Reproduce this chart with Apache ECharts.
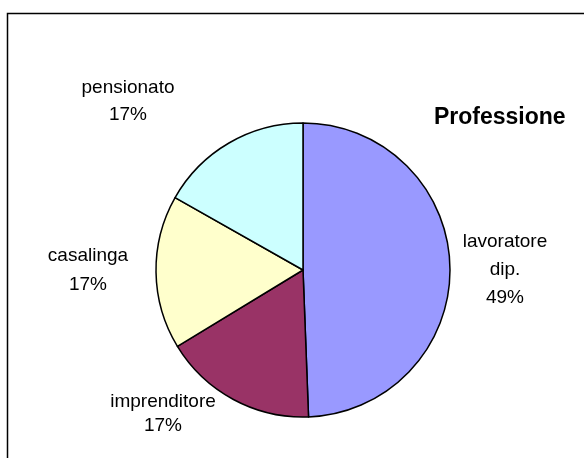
<!DOCTYPE html>
<html>
<head>
<meta charset="utf-8">
<script src="https://cdn.jsdelivr.net/npm/echarts@6/dist/echarts.min.js"></script>
<style>
  html, body { margin: 0; padding: 0; background: #fff; }
  #main { width: 584px; height: 458px; }
</style>
</head>
<body>
<div id="main"></div>
<script>
// Professione
var categories = ['lavoratore\ndip.', 'imprenditore', 'casalinga', 'pensionato'];
var values = [49.4, 16.9, 16.9, 16.8];
var sliceColors = ['#9999FF', '#993366', '#FFFFCC', '#CCFFFF'];

// label anchor points (centre of each label block)
var labelPos = [
  { x: 505, y: 270, lh: 28 },
  { x: 163, y: 414, lh: 24 },
  { x: 88, y: 270, lh: 29 },
  { x: 128, y: 101, lh: 27 }
];

var chartDom = document.getElementById('main');
var myChart = echarts.init(chartDom);

var pieData = [];
for (var i = 0; i < categories.length; i++) {
  pieData.push({
    value: values[i],
    name: categories[i],
    itemStyle: { color: sliceColors[i] },
    label: { lineHeight: labelPos[i].lh }
  });
}

var option = {
  animation: false,
  backgroundColor: '#fff',
  title: {
    text: 'Professione',
    left: 429,
    top: 101,
    textStyle: {
      fontFamily: 'Liberation Sans, Arial, sans-serif',
      fontSize: 23,
      fontWeight: 'bold',
      color: '#000'
    }
  },
  graphic: [
    {
      type: 'rect',
      shape: { x: 7.5, y: 13.5, width: 620, height: 500 },
      style: { fill: 'none', stroke: '#000', lineWidth: 1.5 },
      silent: true
    }
  ],
  series: [
    {
      type: 'pie',
      center: [303, 270],
      radius: [0, 147],
      startAngle: 90,
      clockwise: true,
      percentPrecision: 0,
      itemStyle: {
        borderColor: '#000',
        borderWidth: 1.5
      },
      label: {
        show: true,
        position: 'outside',
        formatter: '{b}\n{d}%',
        color: '#000',
        fontSize: 19,
        fontFamily: 'Liberation Sans, Arial, sans-serif',
        align: 'center',
        overflow: 'none',
        width: 140
      },
      labelLine: { show: false },
      labelLayout: function (params) {
        var p = labelPos[params.dataIndex];
        return { x: p.x, y: p.y, align: 'center', verticalAlign: 'middle' };
      },
      emphasis: { disabled: true },
      data: pieData
    }
  ]
};

option && myChart.setOption(option);
</script>
</body>
</html>
